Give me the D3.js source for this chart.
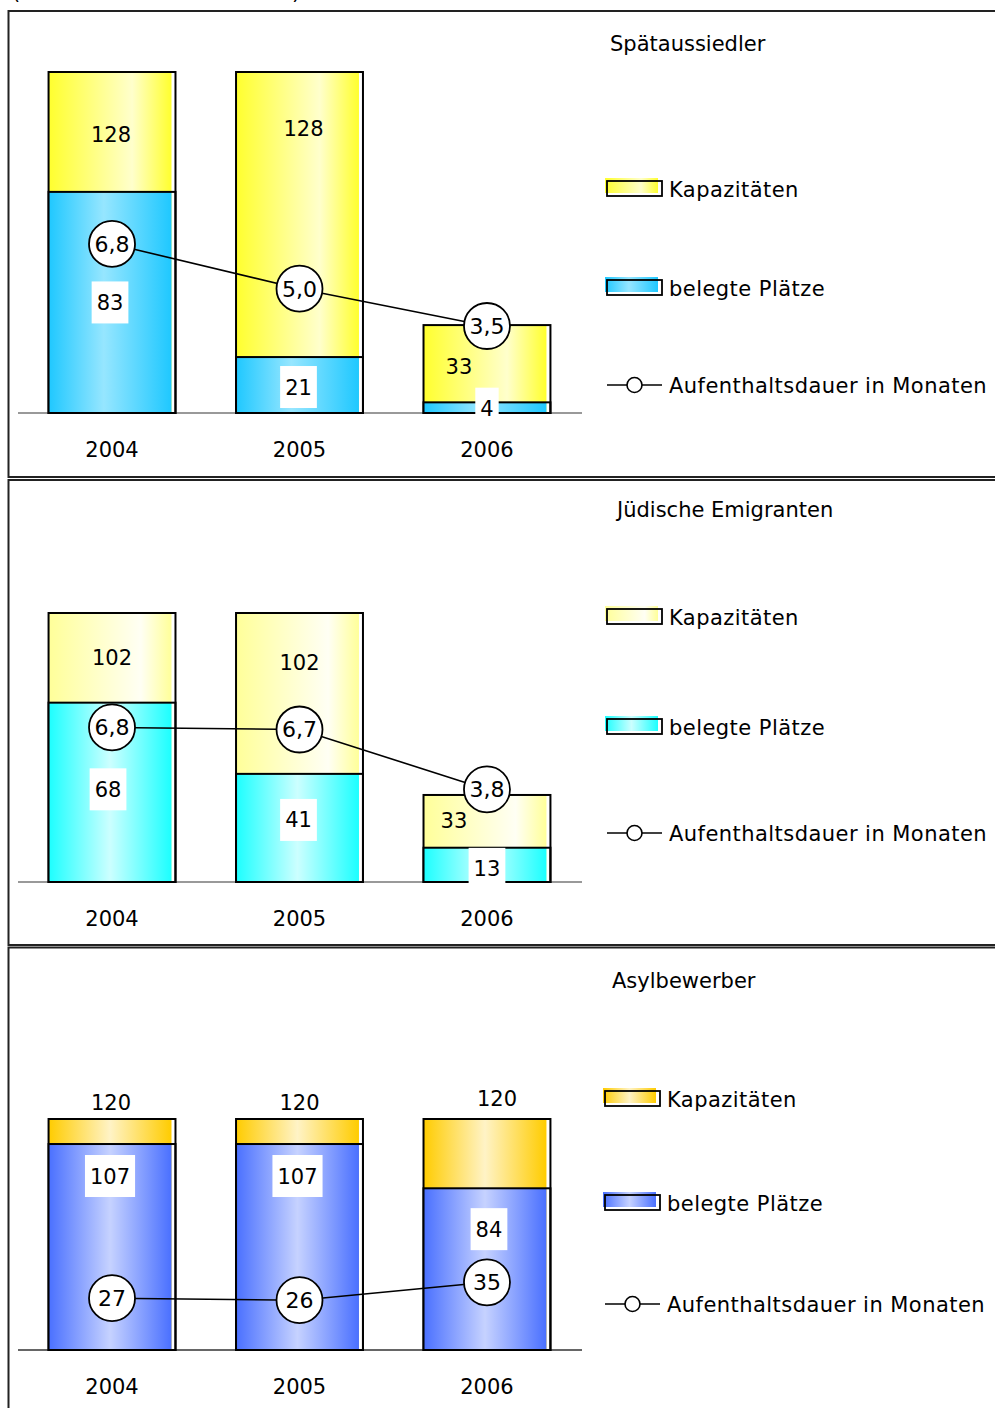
<!DOCTYPE html>
<html>
<head>
<meta charset="utf-8">
<script src="https://cdn.jsdelivr.net/npm/d3@7"></script>
<style>
  body { margin: 0; background: #fff; }
  svg { display: block; font-family: "DejaVu Sans", Verdana, sans-serif; }
</style>
</head>
<body>
<svg id="chart" width="995" height="1408"></svg>
<script>
// ---- data ----
var years = ["2004", "2005", "2006"];
var titles = ["Spätaussiedler", "Jüdische Emigranten", "Asylbewerber"];
var seriesNames = ["Kapazitäten", "belegte Plätze", "Aufenthaltsdauer in Monaten"];

var kapSpaet = [128, 128, 33];
var belegtSpaet = [83, 21, 4];
var dauerSpaet = [6.8, 5.0, 3.5];

var kapJued = [102, 102, 33];
var belegtJued = [68, 41, 13];
var dauerJued = [6.8, 6.7, 3.8];

var kapAsyl = [120, 120, 120];
var belegtAsyl = [107, 107, 84];
var dauerAsyl = [27, 26, 35];

// ---- layout per panel ----
var panels = [
  { title: titles[0], kap: kapSpaet, bel: belegtSpaet, dauer: dauerSpaet, dec: 1,
    frameY: 11, frameH: 466, axisCol: "#777",
    yDom: [0, 128], yRange: [413, 72], dDom: [0, 14], dRange: [413, 65],
    titlePos: [610, 43], legX: 607, legY: [189, 288, 385],
    capNudge: [[-1, 2], [4, -86], [-28, 3]], occNudge: [[-2, 0], [-1, 2], [0, 1]],
    capStops: [[0, "#ffff2e"], [0.68, "#ffffcc"], [1, "#ffff2e"]],
    occStops: [[0, "#1fc8ff"], [0.45, "#96e6ff"], [1, "#1fc8ff"]] },
  { title: titles[1], kap: kapJued, bel: belegtJued, dauer: dauerJued, dec: 1,
    frameY: 480, frameH: 465, axisCol: "#777",
    yDom: [0, 102], yRange: [882, 613], dDom: [0, 10], dRange: [868, 661.3],
    titlePos: [617, 509], legX: 607, legY: [617, 727, 833],
    capNudge: [[0, 0], [0, -31], [-33, -1]], occNudge: [[-4, -3], [-1, -8], [0, 4]],
    capStops: [[0, "#ffff99"], [0.75, "#fffff4"], [1, "#ffff99"]],
    occStops: [[0, "#1cffff"], [0.5, "#ccffff"], [1, "#1cffff"]] },
  { title: titles[2], kap: kapAsyl, bel: belegtAsyl, dauer: dauerAsyl, dec: 0,
    frameY: 947.5, frameH: 470, axisCol: "#333",
    yDom: [0, 120], yRange: [1350, 1119], dDom: [0, 120], dRange: [1352, 1113],
    titlePos: [612, 980], legX: 605, legY: [1099, 1203, 1304],
    capNudge: [[-1, -29], [0, -29], [10, -55]], occNudge: [[-2, -71], [-2, -71], [2, -40]],
    capStops: [[0, "#ffcc00"], [0.5, "#fff3c6"], [1, "#ffcc00"]],
    occStops: [[0, "#4a70ff"], [0.5, "#c6d2ff"], [1, "#4a70ff"]] }
];

var svg = d3.select("#chart");
var defs = svg.append("defs");
var fontSize = 21;

var x = d3.scaleBand()
  .domain(years)
  .range([18, 581])
  .paddingInner(0.323)
  .paddingOuter(0.163);

function fmt(v, dec) {
  return d3.format("." + dec + "f")(v).replace(".", ",");
}

function addGradient(id, stops) {
  var g = defs.append("linearGradient").attr("id", id)
    .attr("x1", "0%").attr("x2", "100%").attr("y1", "0%").attr("y2", "0%");
  stops.forEach(function(s) {
    g.append("stop").attr("offset", s[0]).attr("stop-color", s[1]);
  });
}

// heading above the first frame, cut off by the page edge as in the original
svg.append("text").attr("x", 12).attr("y", -1).attr("font-size", fontSize).text("(");
svg.append("text").attr("x", 292).attr("y", -1).attr("font-size", fontSize).text(")");

panels.forEach(function(p, pi) {
  var g = svg.append("g");
  var y = d3.scaleLinear().domain(p.yDom).range(p.yRange);
  var yd = d3.scaleLinear().domain(p.dDom).range(p.dRange);
  var base = y(0);
  var capId = "cap" + pi, occId = "occ" + pi;
  addGradient(capId, p.capStops);
  addGradient(occId, p.occStops);

  // frame
  g.append("rect")
    .attr("x", 8.5).attr("y", p.frameY)
    .attr("width", 1000).attr("height", p.frameH)
    .attr("fill", "none").attr("stroke", "#222").attr("stroke-width", 2);

  // axis line
  g.append("line")
    .attr("x1", 18).attr("x2", 582)
    .attr("y1", base).attr("y2", base)
    .attr("stroke", p.axisCol).attr("stroke-width", 1.5);

  var bw = x.bandwidth();

  // bars: capacity behind, occupied in front
  years.forEach(function(yr, i) {
    var x0 = x(yr);
    g.append("rect").attr("x", x0).attr("y", y(p.kap[i]))
      .attr("width", bw - 4).attr("height", base - y(p.kap[i]))
      .attr("fill", "url(#" + capId + ")");
    g.append("rect").attr("x", x0).attr("y", y(p.kap[i]))
      .attr("width", bw).attr("height", base - y(p.kap[i]))
      .attr("fill", "none").attr("stroke", "#000").attr("stroke-width", 2);
    g.append("rect").attr("x", x0).attr("y", y(p.bel[i]))
      .attr("width", bw - 4).attr("height", base - y(p.bel[i]))
      .attr("fill", "url(#" + occId + ")");
    g.append("rect").attr("x", x0).attr("y", y(p.bel[i]))
      .attr("width", bw).attr("height", base - y(p.bel[i]))
      .attr("fill", "none").attr("stroke", "#000").attr("stroke-width", 2);
  });

  // bar value labels
  years.forEach(function(yr, i) {
    var cx = x(yr) + bw / 2;
    var capY = (y(p.kap[i]) + y(p.bel[i])) / 2 + p.capNudge[i][1];
    g.append("text")
      .attr("x", cx + p.capNudge[i][0]).attr("y", capY)
      .attr("dy", "0.36em").attr("text-anchor", "middle")
      .attr("font-size", fontSize).text(p.kap[i]);

    var occY = (y(p.bel[i]) + base) / 2 + p.occNudge[i][1];
    var occX = cx + p.occNudge[i][0];
    var box = g.append("rect").attr("fill", "#fff");
    var t = g.append("text")
      .attr("x", occX).attr("y", occY)
      .attr("dy", "0.36em").attr("text-anchor", "middle")
      .attr("font-size", fontSize).text(p.bel[i]);
    var tw = t.node().getComputedTextLength();
    box.attr("x", occX - tw / 2 - 5).attr("y", occY - 21)
      .attr("width", tw + 10).attr("height", 42);
  });

  // year labels
  g.selectAll("text.year")
    .data(years).enter().append("text")
    .attr("class", "year")
    .attr("x", function(d) { return x(d) + bw / 2; })
    .attr("y", base + 36).attr("dy", "0.36em")
    .attr("text-anchor", "middle").attr("font-size", fontSize)
    .text(function(d) { return d; });

  // duration line
  var pts = years.map(function(yr, i) {
    return [x(yr) + bw / 2, yd(p.dauer[i]), p.dauer[i]];
  });
  g.append("path")
    .attr("d", d3.line()(pts.map(function(d) { return [d[0], d[1]]; })))
    .attr("fill", "none").attr("stroke", "#000").attr("stroke-width", 1.6);
  var dots = g.selectAll("g.dot").data(pts).enter().append("g")
    .attr("transform", function(d) { return "translate(" + d[0] + "," + d[1] + ")"; });
  dots.append("circle").attr("r", 23)
    .attr("fill", "#fff").attr("stroke", "#000").attr("stroke-width", 1.8);
  dots.append("text")
    .attr("dy", "0.36em").attr("text-anchor", "middle")
    .attr("font-size", 22)
    .text(function(d) { return fmt(d[2], p.dec); });

  // title + legend
  g.append("text")
    .attr("x", p.titlePos[0]).attr("y", p.titlePos[1]).attr("dy", "0.36em")
    .attr("font-size", fontSize).text(p.title);

  var lx = p.legX;
  [capId, occId].forEach(function(id, k) {
    var ly = p.legY[k];
    g.append("rect").attr("x", lx - 2).attr("y", ly - 11)
      .attr("width", 53).attr("height", 15).attr("fill", "url(#" + id + ")");
    g.append("rect").attr("x", lx).attr("y", ly - 8)
      .attr("width", 55).attr("height", 15)
      .attr("fill", "none").attr("stroke", "#000").attr("stroke-width", 1.8);
  });
  var ly3 = p.legY[2];
  g.append("line").attr("x1", lx).attr("x2", lx + 55)
    .attr("y1", ly3).attr("y2", ly3)
    .attr("stroke", "#000").attr("stroke-width", 1.6);
  g.append("circle").attr("cx", lx + 27.5).attr("cy", ly3).attr("r", 7.5)
    .attr("fill", "#fff").attr("stroke", "#000").attr("stroke-width", 1.6);

  seriesNames.forEach(function(name, k) {
    g.append("text")
      .attr("x", lx + 62).attr("y", p.legY[k]).attr("dy", "0.36em")
      .attr("font-size", fontSize).attr("letter-spacing", 0.45)
      .text(name);
  });
});
</script>
</body>
</html>
